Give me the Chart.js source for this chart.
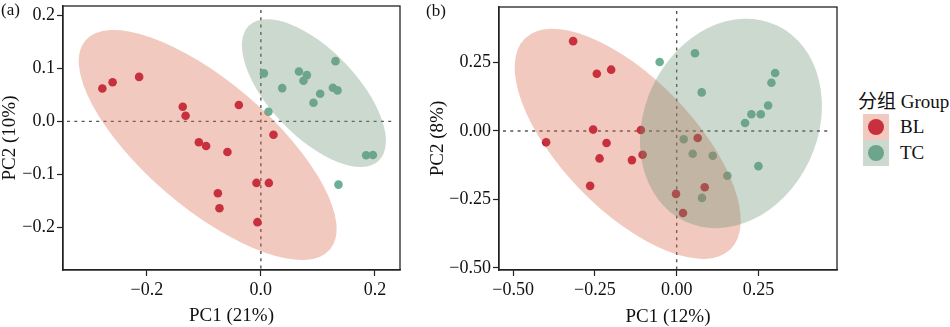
<!DOCTYPE html>
<html>
<head>
<meta charset="utf-8">
<script src="https://cdn.jsdelivr.net/npm/chart.js@4.4.1/dist/chart.umd.min.js"></script>
<style>
  body { margin: 0; background: #fff; width: 950px; height: 327px; overflow: hidden; position: relative;
         font-family: "Liberation Serif", "Noto Sans CJK SC", serif; color: #111; }
  canvas { position: absolute; top: 0; }
  #chartA { left: 0; }
  #chartB { left: 420px; }
  .tag { position: absolute; font-size: 17px; line-height: 17px; }
  .legend { position: absolute; left: 858px; top: 90px; }
  .legend .title { font-size: 19px; line-height: 24px; white-space: nowrap; }
  .legend .row { position: relative; height: 26px; margin-left: 5px; }
  .legend .key { position: absolute; left: 0; top: 0; width: 26px; height: 26px; }
  .legend .dot { position: absolute; left: 5px; top: 5px; width: 16px; height: 16px; border-radius: 50%; }
  .legend .veil { position: absolute; inset: 0; }
  .legend .lab { position: absolute; left: 37px; top: 0; font-size: 19px; line-height: 26px; }
</style>
</head>
<body>
<canvas id="chartA" width="410" height="327"></canvas>
<canvas id="chartB" width="430" height="327"></canvas>
<div class="tag" style="left:1px;top:1px">(a)</div>
<div class="tag" style="left:426px;top:2px">(b)</div>
<div class="legend">
  <div class="title">分组 Group</div>
  <div class="row"><div class="key"><div class="dot" id="dotBL"></div><div class="veil" id="veilBL"></div></div><div class="lab">BL</div></div>
  <div class="row"><div class="key"><div class="dot" id="dotTC"></div><div class="veil" id="veilTC"></div></div><div class="lab">TC</div></div>
</div>
<script>
const GROUPS = ["BL", "TC"];
const POINT_COLORS = { BL: "rgb(192,20,58)", TC: "rgb(108,175,148)" };
const ELLIPSE_COLORS = { BL: "rgba(214,100,70,0.35)", TC: "rgba(109,146,118,0.35)" };

// panel (a): PC1 (21%) vs PC2 (10%)
const A_BL = [
  [-0.278, 0.062], [-0.260, 0.074], [-0.2135, 0.084], [-0.137, 0.0276], [-0.132, 0.0106],
  [-0.0386, 0.0308], [0.0221, -0.0253], [-0.1088, -0.0396], [-0.096, -0.0466], [-0.0586, -0.0579],
  [-0.0077, -0.1164], [0.014, -0.1164], [-0.0754, -0.1358], [-0.0726, -0.1642], [-0.006, -0.1906],
];
const A_TC = [
  [0.0053, 0.0906], [0.0374, 0.0628], [0.0667, 0.0943], [0.0807, 0.0874], [0.0747, 0.0766],
  [0.1309, 0.1138], [0.1263, 0.0634], [0.1344, 0.0585], [0.104, 0.0521], [0.0923, 0.0351],
  [0.0133, 0.0181], [0.1847, -0.0642], [0.1965, -0.0636], [0.1361, -0.1196],
];
// ellipse = centre plus two conjugate semi-axes, in data units
const A_BL_ELLIPSE = { center: [-0.0933, -0.0447], u: [0.2144, -0.1977], v: [-0.0719, -0.0902] };
const A_TC_ELLIPSE = { center: [0.093, 0.0534], u: [0.1137, -0.1277], v: [-0.0549, -0.0566] };
const A_X_RANGE = [-0.347, 0.244];
const A_Y_RANGE = [-0.281, 0.218];
const A_X_TICKS = [-0.2, 0, 0.2];
const A_X_LABELS = ["\u22120.2", "0.0", "0.2"];
const A_Y_TICKS = [-0.2, -0.1, 0, 0.1, 0.2];
const A_Y_LABELS = ["\u22120.2", "\u22120.1", "0.0", "0.1", "0.2"];

// panel (b): PC1 (12%) vs PC2 (8%)
const B_BL = [
  [-0.3165, 0.3283], [-0.244, 0.2093], [-0.2002, 0.224], [-0.399, -0.0415], [-0.2553, 0.0051],
  [-0.2143, -0.0441], [-0.2357, -0.1003], [-0.2645, -0.2005], [-0.1368, -0.1065], [-0.1093, 0.0037],
  [-0.1041, -0.0867], [0.0643, -0.0257], [0.0857, -0.2057], [-0.002, -0.2299], [0.0193, -0.2997],
];
const B_TC = [
  [-0.052, 0.2523], [0.056, 0.2842], [0.0765, 0.141], [0.3009, 0.2119], [0.2896, 0.1763],
  [0.2795, 0.0933], [0.2284, 0.0613], [0.2571, 0.0613], [0.209, 0.0294], [0.2498, -0.1285],
  [0.0214, -0.0305], [0.049, -0.083], [0.1102, -0.0903], [0.1549, -0.1638], [0.0774, -0.2446],
];
const B_BL_ELLIPSE = { center: [-0.1497, -0.047], u: [0.3141, -0.3852], v: [-0.1439, -0.1686] };
const B_TC_ELLIPSE = { center: [0.1659, 0.0275], u: [-0.1414, -0.3577], v: [-0.2394, 0.1366] };
const B_X_RANGE = [-0.543, 0.49];
const B_Y_RANGE = [-0.508, 0.453];
const B_X_TICKS = [-0.5, -0.25, 0, 0.25];
const B_X_LABELS = ["\u22120.50", "\u22120.25", "0.00", "0.25"];
const B_Y_TICKS = [-0.5, -0.25, 0, 0.25];
const B_Y_LABELS = ["\u22120.50", "\u22120.25", "0.00", "0.25"];

const AXIS_COLOR = "#222";
const FONT = "'Liberation Serif', serif";

// zero lines under the points, ellipses over them, then the panel frame
const panelDecor = {
  id: "panelDecor",
  beforeDatasetsDraw(chart) {
    const { ctx, chartArea: a, scales: { x, y } } = chart;
    const x0 = x.getPixelForValue(0), y0 = y.getPixelForValue(0);
    ctx.save();
    ctx.strokeStyle = "#555";
    ctx.lineWidth = 1.4;
    ctx.setLineDash([3, 4.3]);
    ctx.beginPath();
    ctx.moveTo(a.left + 4, y0); ctx.lineTo(a.right - 6, y0);
    ctx.moveTo(x0, a.top + 4); ctx.lineTo(x0, a.bottom);
    ctx.stroke();
    ctx.restore();
  },
  afterDatasetsDraw(chart, args, opts) {
    const { ctx, chartArea: a, scales: { x, y } } = chart;
    ctx.save();
    ctx.beginPath();
    ctx.rect(a.left, a.top, a.right - a.left, a.bottom - a.top);
    ctx.clip();
    opts.ellipses.forEach((e) => {
      const cx = x.getPixelForValue(e.center[0]), cy = y.getPixelForValue(e.center[1]);
      const ux = x.getPixelForValue(e.center[0] + e.u[0]) - cx;
      const uy = y.getPixelForValue(e.center[1] + e.u[1]) - cy;
      const vx = x.getPixelForValue(e.center[0] + e.v[0]) - cx;
      const vy = y.getPixelForValue(e.center[1] + e.v[1]) - cy;
      ctx.save();
      ctx.transform(ux, uy, vx, vy, cx, cy);
      ctx.beginPath();
      ctx.arc(0, 0, 1, 0, Math.PI * 2);
      ctx.restore();
      ctx.fillStyle = e.color;
      ctx.fill();
    });
    ctx.restore();
    ctx.save();
    ctx.strokeStyle = AXIS_COLOR;
    ctx.lineWidth = 1.3;
    ctx.strokeRect(a.left, a.top, a.right - a.left, a.bottom - a.top);
    ctx.restore();
  },
};

function toPoints(pairs) {
  return pairs.map(([px, py]) => ({ x: px, y: py }));
}

// keep label overhang from shrinking the plot area
function noOverhang(s) {
  s.paddingTop = 0; s.paddingBottom = 0; s.paddingLeft = 0; s.paddingRight = 0;
}

function makePanel(canvasId, cfg) {
  const ctx = document.getElementById(canvasId);
  return new Chart(ctx, {
    type: "scatter",
    data: {
      datasets: GROUPS.map((g) => ({
        label: g,
        data: toPoints(cfg.points[g]),
        backgroundColor: POINT_COLORS[g],
        borderWidth: 0,
        pointRadius: 4.3,
        pointHoverRadius: 4.3,
      })),
    },
    options: {
      responsive: false,
      animation: false,
      layout: { padding: { left: 0, right: cfg.padRight, top: cfg.padTop, bottom: 0 } },
      plugins: {
        legend: { display: false },
        tooltip: { enabled: false },
        panelDecor: {
          ellipses: GROUPS.map((g) => ({ ...cfg.ellipses[g], color: ELLIPSE_COLORS[g] })),
        },
      },
      scales: {
        x: {
          type: "linear",
          min: cfg.xRange[0],
          max: cfg.xRange[1],
          afterBuildTicks: (s) => { s.ticks = cfg.xTicks.map((v) => ({ value: v })); },
          afterFit: (s) => { s.height = 57; noOverhang(s); },
          ticks: {
            callback: (v, i) => cfg.xLabels[i],
            color: "#111",
            font: { family: FONT, size: 18 },
            padding: 3,
            maxRotation: 0,
            autoSkip: false,
          },
          grid: { drawOnChartArea: false, drawTicks: true, tickLength: 6, color: AXIS_COLOR, tickWidth: 1.2 },
          border: { display: true, color: AXIS_COLOR, width: 1.3 },
          title: {
            display: true,
            text: cfg.xTitle,
            color: "#111",
            font: { family: FONT, size: 19, lineHeight: 1 },
            padding: { top: 0, bottom: cfg.xTitlePad },
          },
        },
        y: {
          type: "linear",
          min: cfg.yRange[0],
          max: cfg.yRange[1],
          afterBuildTicks: (s) => { s.ticks = cfg.yTicks.map((v) => ({ value: v })); },
          afterFit: (s) => { s.width = cfg.yWidth; noOverhang(s); },
          ticks: {
            callback: (v, i) => cfg.yLabels[i],
            color: "#111",
            font: { family: FONT, size: 18 },
            padding: 2,
            autoSkip: false,
          },
          grid: { drawOnChartArea: false, drawTicks: true, tickLength: 6, color: AXIS_COLOR, tickWidth: 1.2 },
          border: { display: true, color: AXIS_COLOR, width: 1.3 },
          title: {
            display: true,
            text: cfg.yTitle,
            color: "#111",
            font: { family: FONT, size: 19, lineHeight: 1 },
            padding: { top: cfg.yTitlePad, bottom: 0 },
          },
        },
      },
    },
    plugins: [panelDecor],
  });
}

makePanel("chartA", {
  points: { BL: A_BL, TC: A_TC },
  ellipses: { BL: A_BL_ELLIPSE, TC: A_TC_ELLIPSE },
  xRange: A_X_RANGE, yRange: A_Y_RANGE,
  xTicks: A_X_TICKS, xLabels: A_X_LABELS,
  yTicks: A_Y_TICKS, yLabels: A_Y_LABELS,
  xTitle: "PC1 (21%)", yTitle: "PC2 (10%)",
  yWidth: 63, padRight: 10, padTop: 6,
  xTitlePad: 1, yTitlePad: 0.5,
});

makePanel("chartB", {
  points: { BL: B_BL, TC: B_TC },
  ellipses: { BL: B_BL_ELLIPSE, TC: B_TC_ELLIPSE },
  xRange: B_X_RANGE, yRange: B_Y_RANGE,
  xTicks: B_X_TICKS, xLabels: B_X_LABELS,
  yTicks: B_Y_TICKS, yLabels: B_Y_LABELS,
  xTitle: "PC1 (12%)", yTitle: "PC2 (8%)",
  yWidth: 79, padRight: 13, padTop: 7,
  xTitlePad: 0.5, yTitlePad: 8.5,
});

// legend keys: point with the ellipse tint laid over it
GROUPS.forEach((g) => {
  document.getElementById("dot" + g).style.background = POINT_COLORS[g];
  document.getElementById("veil" + g).style.background = ELLIPSE_COLORS[g];
});
</script>
</body>
</html>
